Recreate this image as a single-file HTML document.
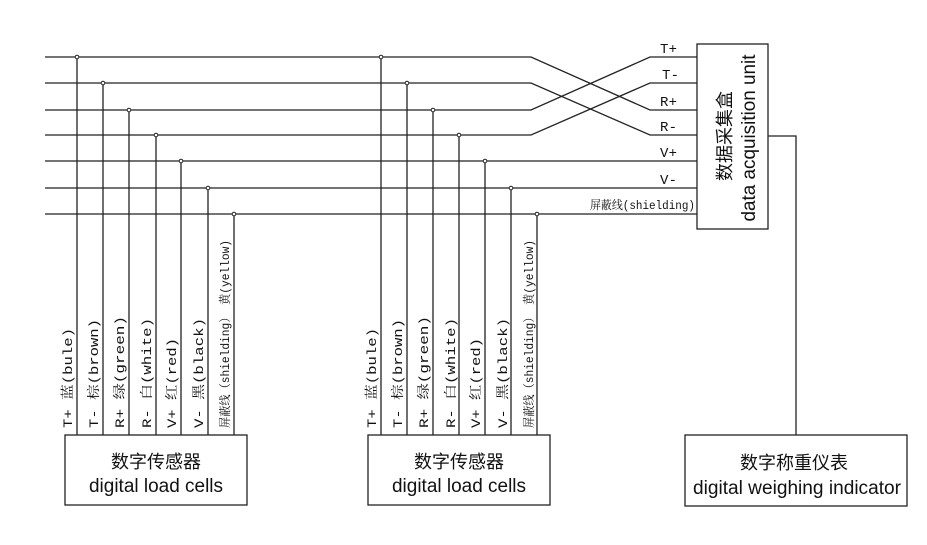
<!DOCTYPE html>
<html><head><meta charset="utf-8"><style>
html,body{margin:0;padding:0;background:#fff;}
svg text{font-family:"Liberation Mono","Noto Serif CJK SC","Noto Sans CJK SC",monospace;fill:#111;}
.s{font-family:"Liberation Sans","Noto Sans CJK SC",sans-serif;}
</style></head><body>
<svg width="927" height="540" viewBox="0 0 927 540" xmlns="http://www.w3.org/2000/svg">
<g stroke="#222" stroke-width="1.3" fill="none">
<polyline points="45,57 531,57 650,110 697,110"/>
<polyline points="45,83 531,83 650,135 697,135"/>
<polyline points="45,110 531,110 650,57 697,57"/>
<polyline points="45,135 531,135 650,83 697,83"/>
<line x1="45" y1="161" x2="697" y2="161"/>
<line x1="45" y1="188" x2="697" y2="188"/>
<line x1="45" y1="214" x2="697" y2="214"/>
<line x1="77" y1="57" x2="77" y2="435"/>
<line x1="103" y1="83" x2="103" y2="435"/>
<line x1="129" y1="110" x2="129" y2="435"/>
<line x1="156" y1="135" x2="156" y2="435"/>
<line x1="181" y1="161" x2="181" y2="435"/>
<line x1="208" y1="188" x2="208" y2="435"/>
<line x1="234" y1="214" x2="234" y2="435"/>
<line x1="381" y1="57" x2="381" y2="435"/>
<line x1="407" y1="83" x2="407" y2="435"/>
<line x1="433" y1="110" x2="433" y2="435"/>
<line x1="459" y1="135" x2="459" y2="435"/>
<line x1="485" y1="161" x2="485" y2="435"/>
<line x1="511" y1="188" x2="511" y2="435"/>
<line x1="537" y1="214" x2="537" y2="435"/>
<rect x="697" y="44" width="71" height="185"/>
<polyline points="768,136 796,136 796,435"/>
<rect x="65" y="435" width="182" height="70"/>
<rect x="368" y="435" width="182" height="70"/>
<rect x="685" y="435" width="222" height="71"/>
</g>
<g fill="#fff" stroke="#222" stroke-width="1">
<circle cx="77" cy="57" r="1.8"/><circle cx="103" cy="83" r="1.8"/><circle cx="129" cy="110" r="1.8"/><circle cx="156" cy="135" r="1.8"/><circle cx="181" cy="161" r="1.8"/><circle cx="208" cy="188" r="1.8"/><circle cx="234" cy="214" r="1.8"/>
<circle cx="381" cy="57" r="1.8"/><circle cx="407" cy="83" r="1.8"/><circle cx="433" cy="110" r="1.8"/><circle cx="459" cy="135" r="1.8"/><circle cx="485" cy="161" r="1.8"/><circle cx="511" cy="188" r="1.8"/><circle cx="537" cy="214" r="1.8"/>
</g>
<g font-size="14">
<text x="660" y="53" textLength="17">T+</text>
<text x="662" y="79" textLength="17">T-</text>
<text x="660" y="106" textLength="17">R+</text>
<text x="660" y="131" textLength="17">R-</text>
<text x="660" y="157" textLength="17">V+</text>
<text x="660" y="184" textLength="17">V-</text>
<text x="590" y="209" font-size="12" textLength="105" lengthAdjust="spacingAndGlyphs">屏蔽线(shielding)</text>
</g>
<g font-size="13" lengthAdjust="spacingAndGlyphs">
<text transform="translate(72,428) rotate(-90)" textLength="100" lengthAdjust="spacingAndGlyphs">T+ 蓝(bule)</text>
<text transform="translate(98,428) rotate(-90)" textLength="109" lengthAdjust="spacingAndGlyphs">T- 棕(brown)</text>
<text transform="translate(124,428) rotate(-90)" textLength="112" lengthAdjust="spacingAndGlyphs">R+ 绿(green)</text>
<text transform="translate(151,428) rotate(-90)" textLength="110" lengthAdjust="spacingAndGlyphs">R- 白(white)</text>
<text transform="translate(176,428) rotate(-90)" textLength="90" lengthAdjust="spacingAndGlyphs">V+ 红(red)</text>
<text transform="translate(203,428) rotate(-90)" textLength="110" lengthAdjust="spacingAndGlyphs">V- 黑(black)</text>
<text transform="translate(229,428) rotate(-90)" font-size="12" textLength="188" lengthAdjust="spacingAndGlyphs">屏蔽线（shielding） 黄(yellow)</text>
<text transform="translate(376,428) rotate(-90)" textLength="100" lengthAdjust="spacingAndGlyphs">T+ 蓝(bule)</text>
<text transform="translate(402,428) rotate(-90)" textLength="109" lengthAdjust="spacingAndGlyphs">T- 棕(brown)</text>
<text transform="translate(428,428) rotate(-90)" textLength="112" lengthAdjust="spacingAndGlyphs">R+ 绿(green)</text>
<text transform="translate(455,428) rotate(-90)" textLength="110" lengthAdjust="spacingAndGlyphs">R- 白(white)</text>
<text transform="translate(480,428) rotate(-90)" textLength="90" lengthAdjust="spacingAndGlyphs">V+ 红(red)</text>
<text transform="translate(507,428) rotate(-90)" textLength="110" lengthAdjust="spacingAndGlyphs">V- 黑(black)</text>
<text transform="translate(533,428) rotate(-90)" font-size="12" textLength="188" lengthAdjust="spacingAndGlyphs">屏蔽线（shielding） 黄(yellow)</text>
</g>
<g text-anchor="middle">
<text class="s" transform="translate(731,136) rotate(-90)" font-size="18">数据采集盒</text>
<text class="s" transform="translate(755,138) rotate(-90)" font-size="19" textLength="167" lengthAdjust="spacingAndGlyphs">data acquisition unit</text>
<text class="s" x="156" y="468" font-size="18">数字传感器</text>
<text class="s" x="156" y="492" font-size="19" textLength="134" lengthAdjust="spacingAndGlyphs">digital load cells</text>
<text class="s" x="459" y="468" font-size="18">数字传感器</text>
<text class="s" x="459" y="492" font-size="19" textLength="134" lengthAdjust="spacingAndGlyphs">digital load cells</text>
<text class="s" x="794" y="469" font-size="18">数字称重仪表</text>
<text class="s" x="797" y="494" font-size="19" textLength="208" lengthAdjust="spacingAndGlyphs">digital weighing indicator</text>
</g>
</svg>
</body></html>
